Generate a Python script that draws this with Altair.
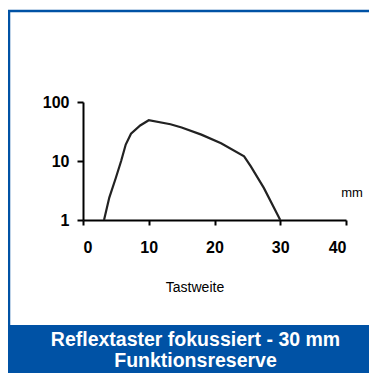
import altair as alt
import pandas as pd

# --- data ---
tastweite_mm = [3.2, 4.0, 5.0, 5.8, 6.5, 7.3, 8.7, 10.0, 13.3, 15.0, 18.0, 21.0, 24.5, 25.5, 27.5, 30.0]
funktionsreserve = [1.0, 2.4, 5.2, 10.0, 19.0, 29.0, 40.0, 49.0, 42.0, 37.0, 28.0, 20.0, 12.0, 8.2, 3.5, 1.0]
x_ticks = [0, 10, 20, 30, 40]
y_ticks = [1, 10, 100]
x_title = "Tastweite"
unit_label = "mm"
title_lines = ["Reflextaster fokussiert - 30 mm", "Funktionsreserve"]

BLUE = "#0052a5"
FONT = "Liberation Sans"

df = pd.DataFrame({"x": tastweite_mm, "y": funktionsreserve})
one = pd.DataFrame({"k": [0]})

W, H = 263, 118
TOTAL_W, TOTAL_H = 361, 365

curve = alt.Chart(df).mark_line(color="#222222", strokeWidth=2.2).encode(
    x=alt.X("x:Q", scale=alt.Scale(domain=[0, 40], nice=False, zero=False),
            axis=alt.Axis(values=x_ticks, title=None, grid=False, format="d",
                          tickSize=5, labelPadding=14)),
    y=alt.Y("y:Q", scale=alt.Scale(type="log", domain=[1, 100], nice=False),
            axis=alt.Axis(values=y_ticks, title=None, grid=False, format="d",
                          tickSize=6, labelPadding=8)),
)

frame = alt.Chart(one).mark_rect(fill=None, stroke=BLUE, strokeWidth=2.5).encode(
    x=alt.value(-74), x2=alt.value(400), y=alt.value(-91), y2=alt.value(240)
)
band = alt.Chart(one).mark_rect(fill=BLUE).encode(
    x=alt.value(-77), x2=alt.value(300), y=alt.value(223), y2=alt.value(290)
)

def label(txt, x, y, size, bold=False, color="black", baseline="middle"):
    return alt.Chart(one).mark_text(
        text=txt, font=FONT, fontSize=size, fontWeight="bold" if bold else "normal",
        color=color, align="center", baseline=baseline
    ).encode(x=alt.value(x), y=alt.value(y))

t_unit = label(unit_label, 269, 91, 13)
t_x = label(x_title, 112, 186, 14)
t1 = label(title_lines[0], 112.5, 244, 19.5, bold=True, color="white", baseline="alphabetic")
t2 = label(title_lines[1], 112.5, 265, 19.5, bold=True, color="white", baseline="alphabetic")

chart = alt.layer(frame, band, curve, t_unit, t_x, t1, t2).properties(
    width=W, height=H,
    autosize=alt.AutoSizeParams(type="none"),
    padding={"left": 75, "top": 94, "right": TOTAL_W - 75 - W, "bottom": TOTAL_H - 94 - H},
    background="white",
).configure_view(stroke=None).configure_axis(
    labelFont=FONT, labelFontSize=16, labelFontWeight="bold", labelColor="black",
    domainColor="black", domainWidth=2, tickColor="black", tickWidth=2,
)

chart.save("out.html", embed_options={"renderer": "svg", "actions": False})
